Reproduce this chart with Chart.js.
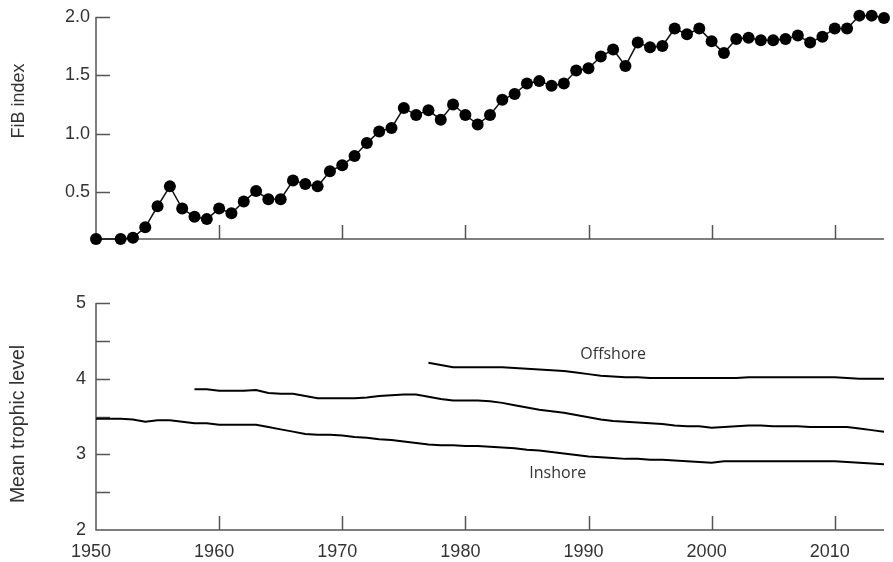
<!DOCTYPE html>
<html>
<head>
<meta charset="utf-8">
<script src="https://cdn.jsdelivr.net/npm/chart.js@4.4.1/dist/chart.umd.min.js"></script>
<style>
	body { margin: 0; background: #fff; }
	#wrap { position: relative; width: 893px; height: 562px; }
	canvas { position: absolute; left: 0; }
	#fibChart { top: 0; }
	#mtlChart { top: 262px; }
</style>
</head>
<body>
<div id="wrap">
	<canvas id="fibChart" width="893" height="262"></canvas>
	<canvas id="mtlChart" width="893" height="300"></canvas>
</div>
<script>

// FiB index (top panel), 1951 has no point
var fibYears = [1950, 1952, 1953, 1954, 1955, 1956, 1957, 1958, 1959,
	1960, 1961, 1962, 1963, 1964, 1965, 1966, 1967, 1968, 1969,
	1970, 1971, 1972, 1973, 1974, 1975, 1976, 1977, 1978, 1979,
	1980, 1981, 1982, 1983, 1984, 1985, 1986, 1987, 1988, 1989,
	1990, 1991, 1992, 1993, 1994, 1995, 1996, 1997, 1998, 1999,
	2000, 2001, 2002, 2003, 2004, 2005, 2006, 2007, 2008, 2009,
	2010, 2011, 2012, 2013, 2014];
var fibValues = [0.10, 0.10, 0.11, 0.20, 0.38, 0.55, 0.36, 0.29, 0.27,
	0.36, 0.32, 0.42, 0.51, 0.44, 0.44, 0.60, 0.57, 0.55, 0.68,
	0.73, 0.81, 0.92, 1.02, 1.05, 1.22, 1.16, 1.20, 1.12, 1.25,
	1.16, 1.08, 1.16, 1.29, 1.34, 1.43, 1.45, 1.41, 1.43, 1.54,
	1.56, 1.66, 1.72, 1.58, 1.78, 1.74, 1.75, 1.90, 1.85, 1.90,
	1.79, 1.69, 1.81, 1.82, 1.80, 1.80, 1.81, 1.84, 1.78, 1.83,
	1.90, 1.90, 2.01, 2.01, 1.99];

// mean trophic level (bottom panel), one value per year from the start year
var inshoreStart = 1950;
var inshoreMTL = [3.47, 3.47, 3.47, 3.46, 3.43, 3.45, 3.45, 3.43, 3.41, 3.41,
	3.39, 3.39, 3.39, 3.39, 3.36, 3.33, 3.30, 3.27, 3.26, 3.26,
	3.25, 3.23, 3.22, 3.20, 3.19, 3.17, 3.15, 3.13, 3.12, 3.12,
	3.11, 3.11, 3.10, 3.09, 3.08, 3.06, 3.05, 3.03, 3.01, 2.99,
	2.97, 2.96, 2.95, 2.94, 2.94, 2.93, 2.93, 2.92, 2.91, 2.90,
	2.89, 2.91, 2.91, 2.91, 2.91, 2.91, 2.91, 2.91, 2.91, 2.91,
	2.91, 2.90, 2.89, 2.88, 2.87];
var allStart = 1958;
var allMTL = [3.86, 3.86,
	3.84, 3.84, 3.84, 3.85, 3.81, 3.80, 3.80, 3.77, 3.74, 3.74,
	3.74, 3.74, 3.75, 3.77, 3.78, 3.79, 3.79, 3.76, 3.73, 3.71,
	3.71, 3.71, 3.70, 3.68, 3.65, 3.62, 3.59, 3.57, 3.55, 3.52,
	3.49, 3.46, 3.44, 3.43, 3.42, 3.41, 3.40, 3.38, 3.37, 3.37,
	3.35, 3.36, 3.37, 3.38, 3.38, 3.37, 3.37, 3.37, 3.36, 3.36,
	3.36, 3.36, 3.34, 3.32, 3.30];
var offshoreStart = 1977;
var offshoreMTL = [4.21, 4.18, 4.15,
	4.15, 4.15, 4.15, 4.15, 4.14, 4.13, 4.12, 4.11, 4.10, 4.08,
	4.06, 4.04, 4.03, 4.02, 4.02, 4.01, 4.01, 4.01, 4.01, 4.01,
	4.01, 4.01, 4.01, 4.02, 4.02, 4.02, 4.02, 4.02, 4.02, 4.02,
	4.02, 4.01, 4.00, 4.00, 4.00];

// ticks and labels
var decadeTicks = [1960, 1970, 1980, 1990, 2000, 2010];
var yearLabels = [1950, 1960, 1970, 1980, 1990, 2000, 2010];
var fibTicks = [0.5, 1.0, 1.5, 2.0];
var mtlLabels = [2, 3, 4, 5];
var mtlTickMarks = [2.5, 3, 3.5, 4, 4.5, 5];

// text labels on the lines: [text, year, level]
var lineLabels = [
	["Offshore", 1992, 4.32],
	["Inshore", 1987.5, 2.75]
];

var tickFont = { family: 'Arial, "Liberation Sans", sans-serif', size: 18 };

Chart.defaults.font.family = 'Arial, "Liberation Sans", sans-serif';
Chart.defaults.font.size = 18;
Chart.defaults.color = '#333';

function series(start, values){
	return values.map(function(v, i){ return { x: start + i, y: v }; });
}

// axis lines, inward tick marks and rotated axis title
var inwardAxes = {
	id: 'inwardAxes',
	beforeDatasetsDraw: function(chart, args, opts){
		var ctx = chart.ctx;
		var ca = chart.chartArea;
		var xs = chart.scales.x;
		var ys = chart.scales.y;
		ctx.save();
		ctx.strokeStyle = '#555';
		ctx.lineWidth = 1.5;
		ctx.beginPath();
		ctx.moveTo(ca.left, ca.top);
		ctx.lineTo(ca.left, ca.bottom);
		ctx.lineTo(ca.right, ca.bottom);
		opts.xTicks.forEach(function(v){
			var px = Math.round(xs.getPixelForValue(v)) + 0.5;
			ctx.moveTo(px, ca.bottom);
			ctx.lineTo(px, ca.bottom - 14);
		});
		opts.yTicks.forEach(function(v){
			var py = Math.round(ys.getPixelForValue(v)) + 0.5;
			ctx.moveTo(ca.left, py);
			ctx.lineTo(ca.left + 14, py);
		});
		ctx.stroke();
		ctx.restore();
	},
	afterDraw: function(chart, args, opts){
		var ctx = chart.ctx;
		ctx.save();
		ctx.fillStyle = '#333';
		ctx.font = opts.titleSize + 'px Arial, "Liberation Sans", sans-serif';
		ctx.textAlign = 'center';
		ctx.textBaseline = 'middle';
		ctx.translate(19, opts.titleY);
		ctx.rotate(-Math.PI / 2);
		ctx.fillText(opts.title, 0, 0);
		ctx.restore();

		if (opts.labels){
			ctx.save();
			ctx.fillStyle = '#333';
			ctx.font = '16px "Open Sans", sans-serif';
			ctx.textAlign = 'center';
			ctx.textBaseline = 'middle';
			opts.labels.forEach(function(l){
				ctx.fillText(l[0], chart.scales.x.getPixelForValue(l[1]), chart.scales.y.getPixelForValue(l[2]));
			});
			ctx.restore();
		}
	}
};

function init_chart_fib(){

	if( typeof (Chart) === 'undefined'){ return; }

	new Chart(document.getElementById('fibChart'), {
		type: 'line',
		data: {
			datasets: [{
				data: fibYears.map(function(y, i){ return { x: y, y: fibValues[i] }; }),
				borderColor: '#111',
				borderWidth: 1.5,
				pointRadius: 6,
				pointBackgroundColor: '#000',
				pointBorderWidth: 0,
				clip: false
			}]
		},
		options: {
			responsive: false,
			animation: false,
			events: [],
			layout: { padding: { top: 13, right: 9, left: 0, bottom: 0 } },
			plugins: {
				legend: { display: false },
				tooltip: { enabled: false },
				inwardAxes: { xTicks: decadeTicks, yTicks: fibTicks, title: 'FiB index', titleY: 101, titleSize: 18 }
			},
			scales: {
				x: {
					type: 'linear', min: 1950, max: 2014,
					grid: { display: false, drawTicks: false },
					border: { display: false },
					ticks: { display: false },
					afterFit: function(s){ s.height = 23; }
				},
				y: {
					min: 0.1, max: 2.0,
					grid: { display: false, drawTicks: false },
					border: { display: false },
					ticks: { padding: 6, font: tickFont, callback: function(v){ return v.toFixed(1); } },
					afterBuildTicks: function(s){ s.ticks = fibTicks.map(function(v){ return { value: v }; }); },
					afterFit: function(s){ s.width = 96; }
				}
			}
		},
		plugins: [inwardAxes]
	});
}

function init_chart_mtl(){

	if( typeof (Chart) === 'undefined'){ return; }

	var lineStyle = { borderColor: '#000', borderWidth: 2, pointRadius: 0, fill: false };

	new Chart(document.getElementById('mtlChart'), {
		type: 'line',
		data: {
			datasets: [
				Object.assign({ label: 'Offshore', data: series(offshoreStart, offshoreMTL) }, lineStyle),
				Object.assign({ label: 'All', data: series(allStart, allMTL) }, lineStyle),
				Object.assign({ label: 'Inshore', data: series(inshoreStart, inshoreMTL) }, lineStyle)
			]
		},
		options: {
			responsive: false,
			animation: false,
			events: [],
			layout: { padding: { top: 41, right: 9, left: 0, bottom: 0 } },
			plugins: {
				legend: { display: false },
				tooltip: { enabled: false },
				inwardAxes: { xTicks: decadeTicks, yTicks: mtlTickMarks, title: 'Mean trophic level', titleY: 162, titleSize: 19.5, labels: lineLabels }
			},
			scales: {
				x: {
					type: 'linear', min: 1950, max: 2014,
					grid: { display: false, drawTicks: false },
					border: { display: false },
					ticks: { padding: 11, font: tickFont, labelOffset: -5, maxRotation: 0, autoSkip: false, callback: function(v){ return String(v); } },
					afterBuildTicks: function(s){ s.ticks = yearLabels.map(function(v){ return { value: v }; }); },
					afterFit: function(s){ s.height = 32; }
				},
				y: {
					min: 2, max: 5,
					grid: { display: false, drawTicks: false },
					border: { display: false },
					ticks: { padding: 10, font: tickFont, callback: function(v){ return String(v); } },
					afterBuildTicks: function(s){ s.ticks = mtlLabels.map(function(v){ return { value: v }; }); },
					afterFit: function(s){ s.width = 96; }
				}
			}
		},
		plugins: [inwardAxes]
	});
}

init_chart_fib();
init_chart_mtl();

</script>
</body>
</html>
